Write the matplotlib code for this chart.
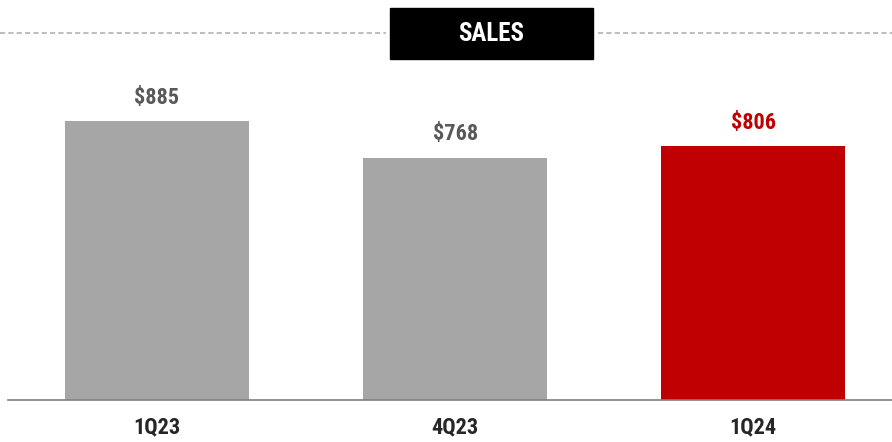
import matplotlib.pyplot as plt
from matplotlib.lines import Line2D
from matplotlib.patches import Rectangle

quarters = ["1Q23", "4Q23", "1Q24"]
sales = [885, 768, 806]
bar_colors = ["#A6A6A6", "#A6A6A6", "#C00000"]
label_colors = ["#595959", "#595959", "#C00000"]

plt.rcParams["font.family"] = ["Roboto Condensed", "DejaVu Sans"]

W, H = 892, 442
fig = plt.figure(figsize=(W / 100, H / 100), dpi=100)

# axes in pixel units: baseline at y=400, x from 8 to 892
ax = fig.add_axes([8 / W, 42 / H, 884 / W, 360 / H])
ax.bar(range(len(quarters)), sales, width=0.617, color=bar_colors)
ax.set_xlim(-0.5, 2.466)
ax.set_ylim(0, 1143)

for i, v in enumerate(sales):
    ax.annotate(f"${v}", (i, v), xytext=(0, 17), textcoords="offset points",
                ha="center", va="center", fontsize=16, fontweight="bold",
                color=label_colors[i])

for s in ["top", "right", "left"]:
    ax.spines[s].set_visible(False)
ax.spines["bottom"].set_color("#808080")
ax.spines["bottom"].set_linewidth(1.2)
ax.set_yticks([])
ax.set_xticks(range(len(quarters)))
ax.set_xticklabels(quarters, fontsize=16, fontweight="bold", color="#262626")
ax.tick_params(axis="x", length=0, pad=12)

# header: black box with dotted rule either side
y_rule = 1 - 33 / H
for x0, x1 in [(0, 386), (598, 892)]:
    fig.add_artist(Line2D([x0 / W, x1 / W], [y_rule, y_rule], color="#BFBFBF",
                          linewidth=1.5, linestyle=(0, (2.5, 1.5))))
fig.add_artist(Rectangle((390 / W, 1 - 59 / H), 203 / W, 51 / H,
                         transform=fig.transFigure, color="black"))
fig.text(491.5 / W, 1 - 34 / H, "SALES", ha="center", va="center",
         fontsize=18, fontweight="bold", color="white")

fig.savefig("out.png", dpi=100)
